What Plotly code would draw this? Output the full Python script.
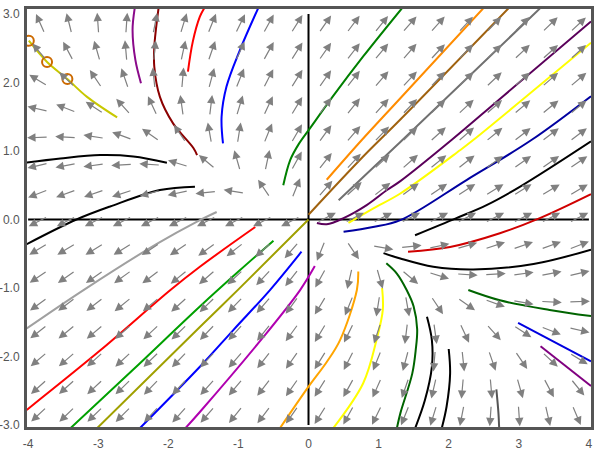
import math
import plotly.graph_objects as go

# arrow grid (centres) and arrow directions in degrees, read row by row (top row first)
grid_x = [-3.8, -3.4, -3.0, -2.6, -2.2, -1.8, -1.4, -1.0, -0.6, -0.2,
          0.2, 0.6, 1.0, 1.4, 1.8, 2.2, 2.6, 3.0, 3.4, 3.8]
grid_y = [2.8, 2.4, 2.0, 1.6, 1.2, 0.8, 0.4, 0.0,
          -0.4, -0.8, -1.2, -1.6, -2.0, -2.4, -2.8]
arrow_angle = [
    [114, 104, 94, 86, 79, 73, 68, 64, 61, 58, 55, 53, 51, 49, 48, 47, 46, 45, 44, 43],
    [130, 118, 106, 95, 85, 78, 71, 66, 61, 58, 55, 52, 50, 49, 47, 46, 44, 43, 42, 42],
    [149, 137, 124, 109, 96, 85, 75, 68, 63, 58, 55, 52, 49, 47, 46, 44, 43, 42, 41, 40],
    [167, 159, 147, 132, 115, 98, 83, 73, 65, 59, 54, 51, 48, 46, 44, 43, 41, 40, 39, 39],
    [-178, 177, 171, 160, 145, 124, 100, 81, 68, 60, 54, 49, 46, 44, 42, 41, 39, 38, 37, 37],
    [-167, -169, -172, -177, 176, 163, 140, 106, 78, 61, 52, 47, 43, 41, 39, 38, 36, 35, 35, 34],
    [-159, -160, -161, -162, -165, -168, -174, 171, 124, 68, 49, 42, 38, 36, 34, 33, 32, 32, 31, 31],
    [-153, -153, -153, -153, -153, -153, -153, -153, -153, -153, 27, 27, 27, 27, 27, 27, 27, 27, 27, 27],
    [-149, -149, -148, -148, -147, -146, -144, -142, -138, -131, -112, -56, -10, 6, 12, 16, 18, 19, 20, 21],
    [-146, -145, -145, -144, -143, -141, -139, -137, -133, -128, -119, -103, -74, -40, -17, -4, 3, 8, 11, 13],
    [-144, -143, -142, -141, -140, -138, -136, -134, -131, -126, -121, -112, -99, -80, -56, -35, -20, -10, -3, 2],
    [-142, -141, -140, -139, -137, -136, -134, -132, -129, -126, -121, -116, -108, -97, -82, -65, -48, -33, -21, -13],
    [-140, -139, -138, -137, -136, -134, -133, -131, -128, -125, -122, -117, -112, -105, -95, -84, -71, -56, -43, -31],
    [-138, -138, -137, -136, -134, -133, -132, -130, -128, -125, -122, -119, -114, -109, -103, -95, -85, -74, -62, -51],
    [-137, -136, -136, -135, -133, -132, -131, -129, -127, -125, -122, -119, -116, -112, -107, -101, -94, -86, -77, -67],
]

# solution curves: (name, colour, x values, y values)
curves = [
    ("ul_purple", "#8a0a8a", [-2.39, -2.47, -2.51, -2.48], [1.99, 2.33, 2.77, 3.08]),
    ("ul_darkred", "#8b0000", [-1.59, -1.64, -1.93, -2.12, -2.20, -2.20, -2.14],
     [0.94, 1.04, 1.40, 1.79, 2.23, 2.52, 3.08]),
    ("ul_red", "#ff0000", [-1.72, -1.65, -1.55, -1.49], [2.16, 2.60, 2.96, 3.08]),
    ("ul_blue", "#0000ff", [-1.22, -1.24, -1.17, -0.98, -0.72], [1.11, 1.50, 1.94, 2.47, 3.08]),
    ("ul_green", "#008000", [-0.36, -0.26, -0.14, 0.02, 0.35, 0.78, 1.33],
     [0.50, 0.87, 1.10, 1.33, 1.80, 2.38, 3.08]),
    ("ur_orange", "#ff8c00", [0.26, 0.76, 1.31, 2.49], [0.58, 1.16, 1.77, 3.08]),
    ("ur_brown", "#a0620f", [0.0, 0.78, 1.31, 2.85], [0.07, 0.92, 1.46, 3.08]),
    ("ur_gray", "#707070", [0.43, 1.31, 3.30], [0.28, 1.13, 3.08]),
    ("ur_dpurple", "#5a005a", [0.12, 0.26, 0.50, 0.83, 1.12, 1.31, 2.04, 2.73, 4.03],
     [-0.05, -0.07, 0.02, 0.21, 0.43, 0.56, 1.16, 1.76, 2.89]),
    ("ur_yellow", "#ffff00", [0.57, 0.92, 1.31, 2.16, 2.35, 4.03],
     [-0.05, 0.16, 0.38, 1.01, 1.16, 2.58]),
    ("ur_navy", "#0000a0", [0.50, 0.92, 1.31, 2.26, 3.18, 4.03],
     [-0.18, -0.11, -0.01, 0.58, 1.16, 1.80]),
    ("r_black1", "#000000", [1.52, 2.11, 2.54, 3.02, 4.03], [-0.23, 0.02, 0.21, 0.48, 1.14]),
    ("r_red", "#d00000", [1.42, 2.02, 2.73, 3.30, 4.03], [-0.47, -0.40, -0.20, 0.02, 0.37]),
    ("r_black2", "#000000", [1.07, 1.31, 1.78, 2.35, 3.21, 4.03],
     [-0.49, -0.57, -0.69, -0.73, -0.65, -0.44]),
    ("r_dgreen1", "#006400", [1.11, 1.26, 1.40, 1.50, 1.55, 1.53, 1.48, 1.31, 1.26],
     [-0.64, -0.79, -1.03, -1.27, -1.60, -1.90, -2.25, -2.83, -3.05]),
    ("r_black3", "#000000", [1.69, 1.76, 1.76, 1.66, 1.52], [-1.42, -1.76, -2.15, -2.64, -3.05]),
    ("r_black4", "#000000", [2.00, 2.02, 1.97, 1.90], [-1.89, -2.25, -2.73, -3.05]),
    ("r_dgray", "#555555", [2.68, 2.71, 2.72], [-2.48, -2.83, -3.05]),
    ("r_dgreen2", "#006400", [2.28, 2.73, 3.44, 4.03], [-1.03, -1.18, -1.32, -1.41]),
    ("r_blue", "#0000e0", [2.99, 4.03], [-1.51, -2.07]),
    ("r_purple", "#800080", [3.31, 4.03], [-1.85, -2.43]),
    ("l_gray", "#a0a0a0", [-1.31, -1.57, -2.17, -3.21, -4.02], [0.11, -0.02, -0.36, -1.03, -1.59]),
    ("l_black1", "#000000", [-1.62, -2.12, -2.83, -3.31, -4.02], [0.48, 0.43, 0.19, 0.0, -0.36]),
    ("l_black2", "#000000", [-2.02, -2.50, -2.97, -3.54, -4.02], [0.83, 0.92, 0.94, 0.89, 0.83]),
    ("l_red", "#ff0000", [-0.76, -1.55, -1.97, -2.97, -4.02], [-0.11, -0.69, -1.03, -1.91, -2.78]),
    ("l_green", "#00a000", [-0.50, -1.00, -1.55, -2.50, -3.40], [-0.31, -0.76, -1.27, -2.19, -3.05]),
    ("l_olive", "#a0a000", [0.0, -1.00, -1.55, -3.02], [0.0, -1.02, -1.57, -3.05]),
    ("l_blue", "#0000ff", [-0.10, -0.55, -1.07, -1.55, -2.41], [-0.47, -1.03, -1.61, -2.15, -3.05]),
    ("l_magenta", "#b000b0", [0.09, -0.12, -0.64, -1.55, -1.76], [-0.68, -1.03, -1.71, -2.81, -3.05]),
    ("b_orange", "#ffa500", [0.71, 0.69, 0.45, 0.26, 0.0, -0.41], [-0.76, -1.03, -1.76, -2.08, -2.44, -3.05]),
    ("b_yellow", "#ffff00", [1.05, 1.06, 0.97, 0.78, 0.35], [-1.0, -1.32, -1.76, -2.39, -3.05]),
]

# traced path with step markers (upper left)
path_x = [-2.73, -3.16, -3.44, -3.73, -3.99]
path_y = [1.49, 1.79, 2.05, 2.30, 2.61]
step_x = [-3.99, -3.73, -3.44]
step_y = [2.61, 2.30, 2.05]

x_range = [-4.016, 4.03]
y_range = [-3.029, 3.073]
W, H = 600, 450
ML, MR, MT, MB = 27, 9, 9, 23
sx = (W - ML - MR) / (x_range[1] - x_range[0])
sy = (H - MT - MB) / (y_range[1] - y_range[0])

fig = go.Figure()

# axes through the origin
fig.add_trace(go.Scatter(x=[-4, 4], y=[0, 0], mode="lines",
                         line=dict(color="black", width=2), hoverinfo="skip"))
fig.add_trace(go.Scatter(x=[0, 0], y=[-3, 3], mode="lines",
                         line=dict(color="black", width=2), hoverinfo="skip"))

for name, col, cx, cy in curves:
    fig.add_trace(go.Scatter(x=cx, y=cy, mode="lines", name=name,
                             line=dict(color=col, width=2, shape="spline")))

fig.add_trace(go.Scatter(x=path_x, y=path_y, mode="lines",
                         line=dict(color="#c8c800", width=2, shape="spline")))
fig.add_trace(go.Scatter(x=step_x, y=step_y, mode="markers",
                         marker=dict(symbol="circle-open", size=10, color="#cc6a00",
                                     line=dict(width=2, color="#cc6a00"))))

# direction field
back, fwd = 6, 15
anns = []
for i, gy in enumerate(grid_y):
    for j, gx in enumerate(grid_x):
        t = math.radians(arrow_angle[i][j])
        c, s = math.cos(t), math.sin(t)
        anns.append(dict(
            x=gx + fwd * c / sx, y=gy + fwd * s / sy,
            ax=gx - back * c / sx, ay=gy - back * s / sy,
            xref="x", yref="y", axref="x", ayref="y",
            text="", showarrow=True, arrowhead=2, arrowsize=1.4,
            arrowwidth=1.2, arrowcolor="#808080", standoff=0,
        ))

fig.update_layout(
    width=W, height=H,
    margin=dict(l=ML, r=MR, t=MT, b=MB),
    plot_bgcolor="white", paper_bgcolor="white",
    showlegend=False,
    annotations=anns,
    font=dict(family="Liberation Sans, Arial", size=12, color="#555555"),
)
fig.update_xaxes(range=x_range, showgrid=False, zeroline=False, automargin=False,
                 showline=True, mirror=True, linecolor="#555555", linewidth=3,
                 tickvals=[-4, -3, -2, -1, 0, 1, 2, 3, 4],
                 ticktext=["-4", "-3", "-2", "-1", "0", "1", "2", "3", "4"],
                 ticks="outside", ticklen=4, tickcolor="rgba(0,0,0,0)")
fig.update_yaxes(range=y_range, showgrid=False, zeroline=False, automargin=False,
                 showline=True, mirror=True, linecolor="#555555", linewidth=3,
                 tickvals=[-3, -2, -1, 0, 1, 2, 3],
                 ticktext=["-3.0", "-2.0", "-1.0", "0.0", "1.0", "2.0", "3.0"],
                 ticks="outside", ticklen=2, tickcolor="rgba(0,0,0,0)")

# the page's default body margin would shift the figure; remove it
fig.write_html("out.html", config={"displayModeBar": False},
               post_script="document.body.style.margin='0';")
